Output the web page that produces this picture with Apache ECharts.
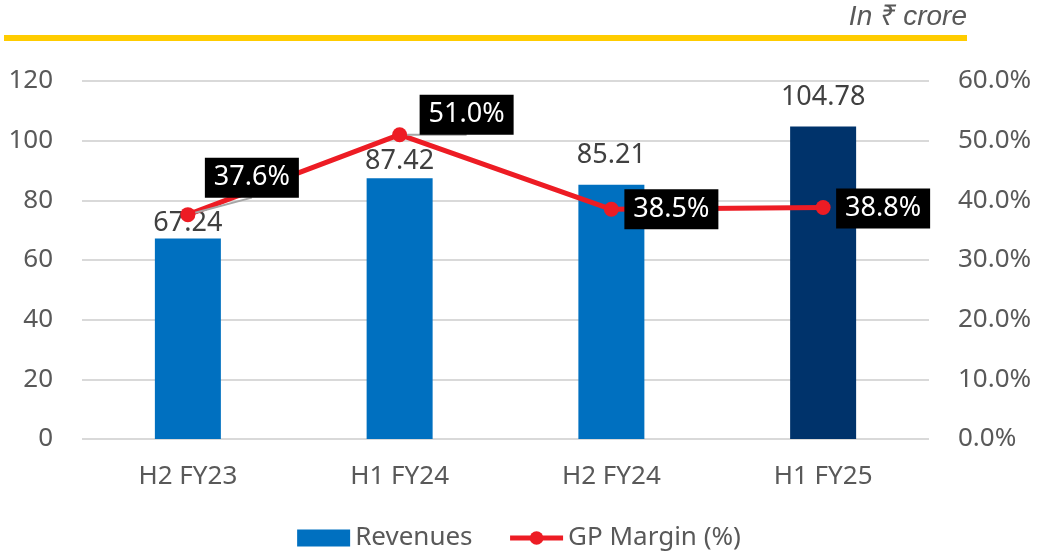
<!DOCTYPE html>
<html>
<head>
<meta charset="utf-8">
<script src="https://cdn.jsdelivr.net/npm/echarts@6/dist/echarts.min.js"></script>
<style>
  html, body { margin: 0; padding: 0; background: #fff; }
  #chart { width: 1038px; height: 556px; }
</style>
</head>
<body>
<div id="chart"></div>
<script>
// 数据
const categories = ["H2 FY23", "H1 FY24", "H2 FY24", "H1 FY25"];
const revenues = [67.24, 87.42, 85.21, 104.78];
const gpMargin = [37.6, 51.0, 38.5, 38.8];
const leftTicks = [0, 120, 20];
const rightTicks = [0, 60, 10];

const font = "Noto Sans";
// 标签位置微调
const labelOffsets = [[64, -37], [67, -20], [60, 0], [60, 1]];
const barLabelGap = [2, 3, 16, 16];

const myChart = echarts.init(document.querySelector("#chart"));
const option = {
  animation: false,
  textStyle: { fontFamily: font },
  graphic: [
    { type: "rect", shape: { x: 4, y: 35, width: 963, height: 6 }, style: { fill: "#FFCC00" } },
    {
      type: "text", right: 71, top: 3,
      style: { text: "In ₹ crore", font: "italic 28px 'Liberation Sans', 'Noto Sans', sans-serif", fill: "#595959" },
    },
  ],
  grid: { left: 82, right: 109, top: 81, bottom: 117 },
  legend: {
    bottom: 0,
    left: "center",
    itemWidth: 53,
    itemHeight: 17,
    itemGap: 35,
    lineStyle: { width: 5 },
    textStyle: { fontSize: 26, color: "#595959", fontFamily: font },
    data: [
      { name: "Revenues", icon: "rect" },
      { name: "GP Margin (%)" },
    ],
  },
  xAxis: {
    type: "category",
    data: categories,
    axisLine: { show: false },
    axisTick: { show: false },
    axisLabel: { fontSize: 26, color: "#595959", margin: 25, fontFamily: font },
  },
  yAxis: [
    {
      type: "value",
      min: leftTicks[0], max: leftTicks[1], interval: leftTicks[2],
      axisLabel: { fontSize: 26, color: "#595959", margin: 29, fontFamily: font },
      splitLine: { lineStyle: { color: "#D9D9D9", width: 2 } },
    },
    {
      type: "value",
      min: rightTicks[0], max: rightTicks[1], interval: rightTicks[2],
      axisLabel: { fontSize: 26, color: "#595959", margin: 29, fontFamily: font, formatter: (v) => v.toFixed(1) + "%" },
      splitLine: { show: false },
    },
  ],
  series: [
    {
      name: "Revenues",
      type: "bar",
      barWidth: 66,
      itemStyle: { color: "#0070C0" },
      label: { show: true, position: "top", fontSize: 27, color: "#404040", fontFamily: font },
      data: revenues.map((v, i) => ({
        value: v,
        label: { distance: barLabelGap[i] },
        itemStyle: i === 3 ? { color: "#00336B" } : undefined,
      })),
    },
    {
      name: "GP Margin (%)",
      type: "line",
      yAxisIndex: 1,
      symbol: "circle",
      symbolSize: 15,
      lineStyle: { color: "#ED1C24", width: 5 },
      itemStyle: { color: "#ED1C24" },
      z: 5,
      data: gpMargin.map((v, i) => ({
        value: v,
        label: { offset: labelOffsets[i] },
        labelLine: { show: i < 2, lineStyle: { color: "#A6A6A6", width: 2 } },
      })),
      label: {
        show: true,
        position: "inside",
        fontSize: 27,
        fontFamily: font,
        color: "#fff",
        backgroundColor: "#000",
        padding: [8, 9, 5, 9],
        formatter: (p) => p.value.toFixed(1) + "%",
      },
    },
  ],
};
myChart.setOption(option);
</script>
</body>
</html>
